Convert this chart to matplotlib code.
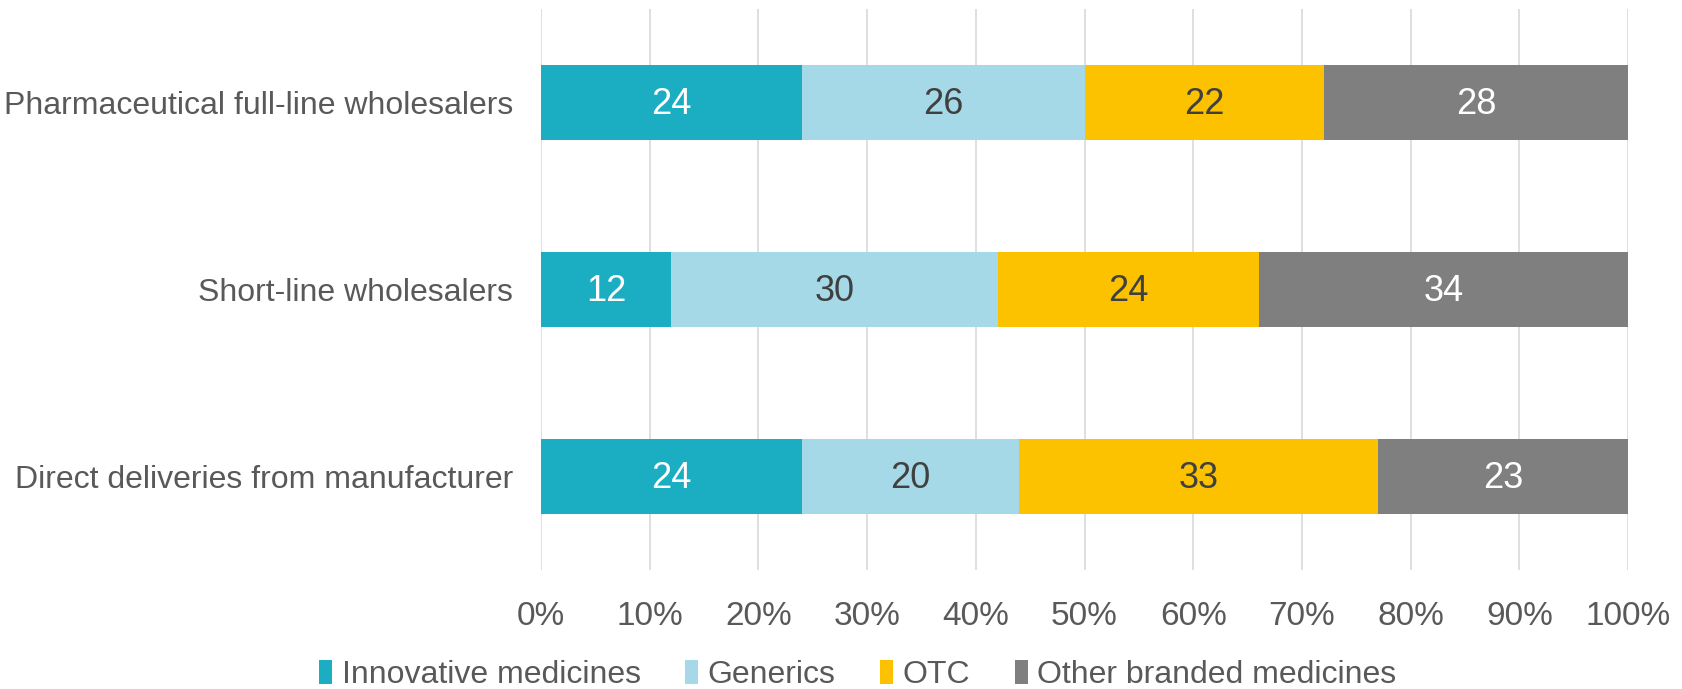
import numpy as np
import matplotlib
matplotlib.use("Agg")
from matplotlib import pyplot as plt
from matplotlib.patches import Patch

plt.rcParams['font.family'] = ['Liberation Sans', 'DejaVu Sans']

categories = ['Pharmaceutical full-line wholesalers', 'Short-line wholesalers', 'Direct deliveries from manufacturer']
series = ['Innovative medicines', 'Generics', 'OTC', 'Other branded medicines']
innovative = [24, 12, 24]
generics = [26, 30, 20]
otc = [22, 24, 33]
other = [28, 34, 23]
ticks = [0, 10, 20, 30, 40, 50, 60, 70, 80, 90, 100]

colors = ['#1BAEC3', '#A6D9E7', '#FCC200', '#7F7F7F']
text_colors = ['white', '#404040', '#404040', 'white']

fig = plt.figure(figsize=(16.82, 6.89), dpi=100)
ax = fig.add_axes([0.3216, 0.1727, 0.9680 - 0.3216, 0.987 - 0.1727])

y = np.arange(len(categories))
left = np.zeros(len(categories))
for vals, name, c, tc in zip([innovative, generics, otc, other], series, colors, text_colors):
    vals = np.array(vals)
    bars = ax.barh(y, vals, left=left, height=0.4, color=c, label=name, zorder=3)
    for b, v in zip(bars, vals):
        ax.text(b.get_x() + b.get_width() / 2, b.get_y() + b.get_height() / 2 + 0.01, str(v),
                ha='center', va='center', color=tc, fontsize=26, zorder=4)
    left += vals

ax.set_xlim(0, 100)
ax.set_ylim(2.5, -0.5)
ax.set_xticks(ticks)
ax.set_xticklabels([f'{t}%' for t in ticks])
ax.set_yticks(y)
ax.set_yticklabels(categories)
ax.tick_params(axis='x', length=0, labelsize=24, labelcolor='#595959', pad=22)
ax.tick_params(axis='y', length=0, labelsize=23, labelcolor='#595959', pad=20)
ax.grid(axis='x', color='#D9D9D9', linewidth=1.2, zorder=0)
for s in ax.spines.values():
    s.set_visible(False)

handles = [Patch(facecolor=c, label=n) for c, n in zip(colors, series)]
fig.legend(handles=handles, loc='center', bbox_to_anchor=(0.51, 0.02), ncol=4, frameon=False,
           fontsize=23, labelcolor='#595959', handlelength=0.4, handleheight=0.75,
           handletextpad=0.3, columnspacing=1.4)

fig.savefig('out.png', dpi=100)
